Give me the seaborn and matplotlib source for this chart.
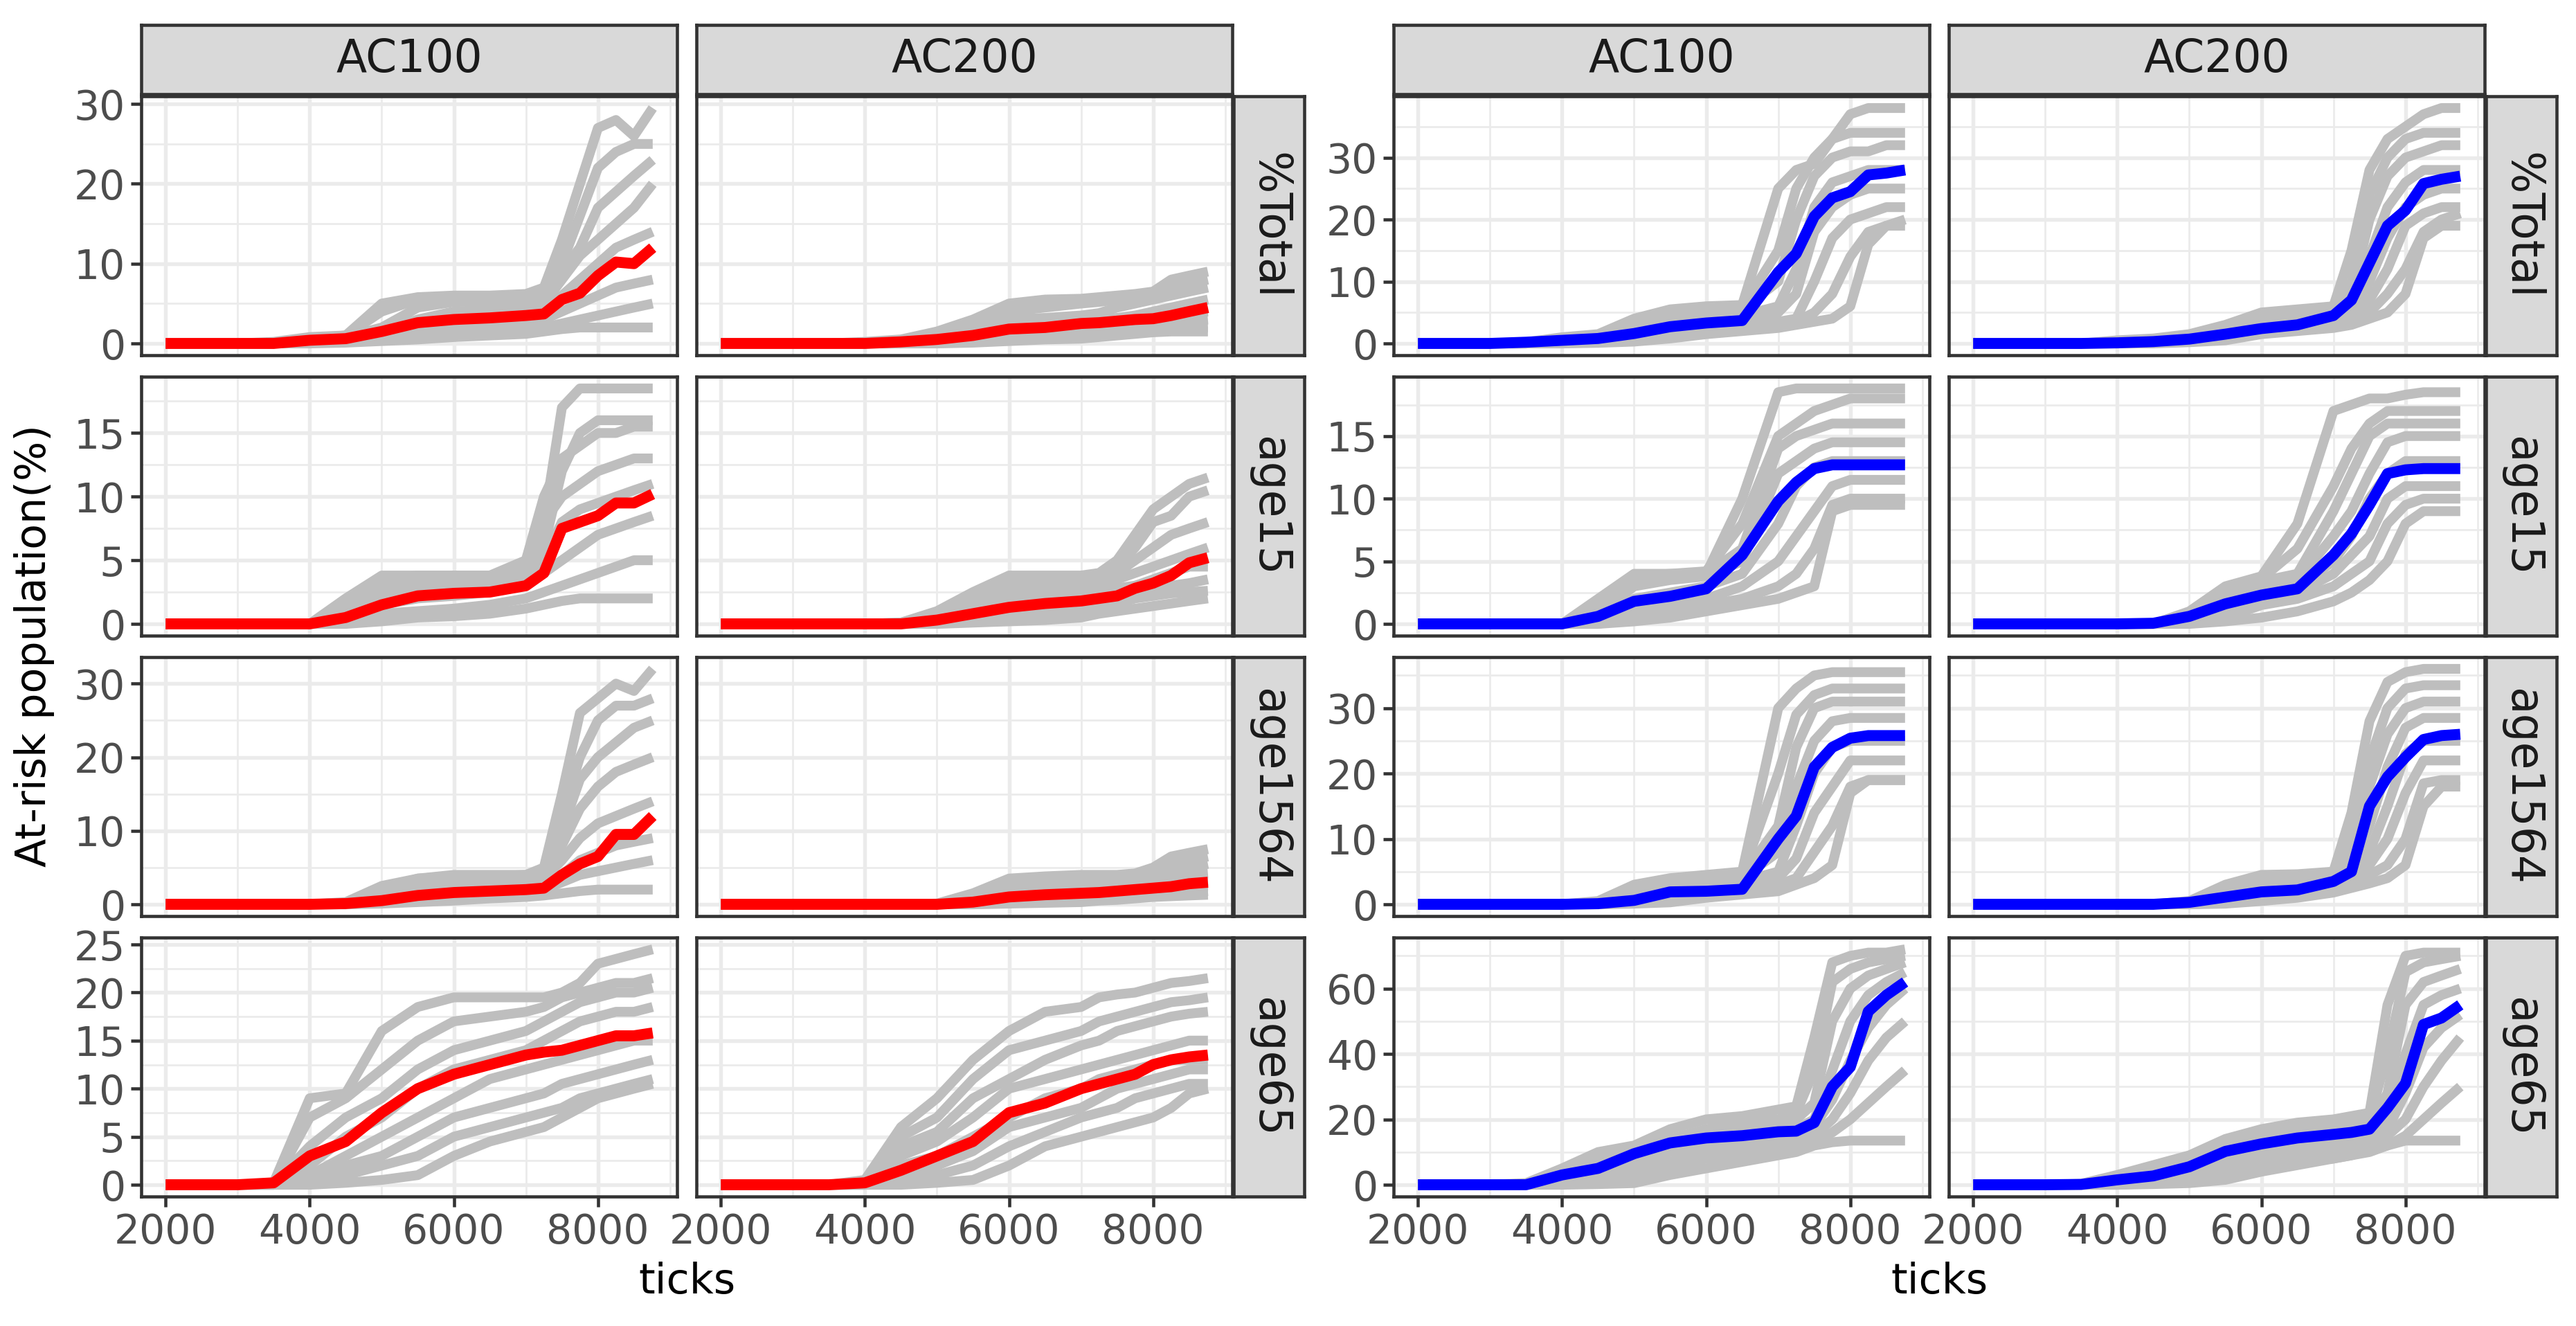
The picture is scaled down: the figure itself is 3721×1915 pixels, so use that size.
import pandas as pd
import seaborn as sns
import matplotlib.pyplot as plt
from matplotlib.ticker import FixedLocator, MultipleLocator

# sampling points along the simulation clock
TICKS = [2000, 3000, 3500, 4000, 4500, 5000, 5500, 6000, 6500, 7000, 7250, 7500, 7750, 8000, 8250, 8500, 8760]
ROWS = ["%Total", "age15", "age1564", "age65"]
COLS = ["AC100", "AC200"]
X_TICKS = [2000, 4000, 6000, 8000]
LEFT_Y_TICKS = [[0, 10, 20, 30], [0, 5, 10, 15], [0, 10, 20, 30], [0, 5, 10, 15, 20, 25]]
RIGHT_Y_TICKS = [[0, 10, 20, 30], [0, 5, 10, 15], [0, 10, 20, 30], [0, 20, 40, 60]]

# ---- left group (red mean) ----
LEFT_AC100_TOTAL_MEAN = [0, 0, 0, 0.4, 0.6, 1.5, 2.6, 3.0, 3.2, 3.5, 3.7, 5.5, 6.3, 8.5, 10.2, 10.0, 12.0]
LEFT_AC100_TOTAL_RUNS = [
    [0, 0, 0.2, 0.8, 1, 5, 5.8, 6, 6, 6.2, 7, 13, 20, 27, 28, 26, 29.5],
    [0, 0, 0.1, 0.6, 1, 4, 5.5, 5.8, 5.8, 6, 6.5, 10, 16, 22, 24, 25, 25],
    [0, 0, 0.1, 0.5, 0.8, 2, 4.5, 5.2, 5.3, 5.5, 6, 9, 12, 17, 19, 21, 23],
    [0, 0, 0, 0.3, 0.6, 1.5, 3, 4, 4.2, 4.5, 5, 8, 11, 13, 15, 17, 20],
    [0, 0, 0, 0.3, 0.5, 1, 2.5, 3, 3.2, 3.5, 4, 6, 8, 10, 12, 13, 14],
    [0, 0, 0, 0.2, 0.4, 0.8, 1.5, 2, 2.3, 2.5, 3, 4, 5, 6, 7, 7.5, 8],
    [0, 0, 0, 0.1, 0.3, 0.5, 1, 1.2, 1.3, 1.5, 2, 2.5, 3, 3.5, 4, 4.5, 5],
    [0, 0, 0, 0, 0.1, 0.3, 0.5, 0.8, 1, 1.2, 1.5, 1.8, 2, 2, 2, 2, 2],
]
LEFT_AC200_TOTAL_MEAN = [0, 0, 0, 0, 0.2, 0.5, 1.0, 1.8, 2.0, 2.5, 2.6, 2.8, 3.0, 3.1, 3.5, 4.0, 4.5]
LEFT_AC200_TOTAL_RUNS = [
    [0, 0, 0, 0.2, 0.5, 1.5, 3, 5, 5.5, 5.6, 5.8, 6, 6.2, 6.5, 8, 8.5, 9],
    [0, 0, 0, 0.1, 0.4, 1, 2.5, 4, 4.5, 5, 5.2, 5.5, 5.8, 6, 7, 7.5, 8],
    [0, 0, 0, 0.1, 0.3, 0.8, 2, 3, 3.2, 3.5, 3.8, 4.5, 5, 5.5, 6, 6.5, 7],
    [0, 0, 0, 0, 0.2, 0.5, 1.5, 2.2, 2.5, 2.8, 3, 3.2, 3.5, 4, 4.5, 5, 5.5],
    [0, 0, 0, 0, 0.1, 0.3, 1, 1.5, 1.8, 2, 2.2, 2.5, 2.8, 3, 3.5, 3.8, 4],
    [0, 0, 0, 0, 0, 0.2, 0.5, 1, 1.2, 1.5, 1.8, 2, 2.2, 2.4, 2.6, 2.8, 3],
    [0, 0, 0, 0, 0, 0.1, 0.3, 0.5, 0.6, 0.8, 1, 1.2, 1.5, 1.8, 2, 2, 2],
    [0, 0, 0, 0, 0, 0, 0.1, 0.3, 0.5, 0.6, 0.8, 1, 1.2, 1.4, 1.5, 1.5, 1.5],
]
LEFT_AC100_AGE15_MEAN = [0, 0, 0, 0, 0.5, 1.5, 2.2, 2.4, 2.5, 3.0, 4.0, 7.5, 8.0, 8.5, 9.5, 9.5, 10.2]
LEFT_AC100_AGE15_RUNS = [
    [0, 0, 0, 0, 2, 3.8, 3.8, 3.8, 3.8, 4, 8, 17, 18.5, 18.5, 18.5, 18.5, 18.5],
    [0, 0, 0, 0, 1.5, 3.5, 3.8, 3.8, 3.8, 4, 6, 12, 15, 16, 16, 16, 16],
    [0, 0, 0, 0, 1, 3, 3.5, 3.6, 3.8, 5, 10, 13, 14, 15, 15, 15.5, 15.5],
    [0, 0, 0, 0, 0.8, 2.5, 3, 3.2, 3.5, 4.5, 8, 10, 11, 12, 12.5, 13, 13],
    [0, 0, 0, 0, 0.5, 2, 2.5, 3, 3.2, 3.5, 5, 8, 9, 9.5, 10, 10.5, 11],
    [0, 0, 0, 0, 0.3, 1.5, 2, 2.2, 2.5, 3, 4, 5, 6, 7, 7.5, 8, 8.5],
    [0, 0, 0, 0, 0.2, 0.8, 1, 1.2, 1.5, 2, 2.5, 3, 3.5, 4, 4.5, 5, 5],
    [0, 0, 0, 0, 0, 0.2, 0.5, 0.6, 0.8, 1.2, 1.5, 1.8, 2, 2, 2, 2, 2],
]
LEFT_AC200_AGE15_MEAN = [0, 0, 0, 0, 0, 0.3, 0.8, 1.3, 1.6, 1.8, 2.0, 2.2, 2.8, 3.2, 3.8, 4.8, 5.2]
LEFT_AC200_AGE15_RUNS = [
    [0, 0, 0, 0, 0.1, 1, 2.5, 3.8, 3.8, 3.8, 4, 5, 7, 9, 10, 11, 11.5],
    [0, 0, 0, 0, 0.1, 0.8, 2, 3.5, 3.6, 3.7, 3.8, 4.5, 6, 8, 8.5, 10, 10.5],
    [0, 0, 0, 0, 0, 0.5, 1.5, 3, 3.2, 3.5, 3.6, 4, 5, 6, 7, 7.5, 8],
    [0, 0, 0, 0, 0, 0.4, 1.2, 2.5, 2.8, 3, 3.2, 3.5, 4, 4.5, 5, 5.5, 6],
    [0, 0, 0, 0, 0, 0.3, 1, 2, 2.2, 2.5, 2.6, 2.8, 3, 3.5, 4, 4.5, 4.5],
    [0, 0, 0, 0, 0, 0.2, 0.6, 1.2, 1.5, 1.8, 2, 2.2, 2.5, 2.8, 3, 3.2, 3.5],
    [0, 0, 0, 0, 0, 0.1, 0.3, 0.5, 0.8, 1, 1.3, 1.6, 2, 2.2, 2.4, 2.5, 2.6],
    [0, 0, 0, 0, 0, 0, 0.1, 0.2, 0.3, 0.5, 0.8, 1, 1.2, 1.4, 1.6, 1.8, 2],
]
LEFT_AC100_AGE1564_MEAN = [0, 0, 0, 0, 0.1, 0.5, 1.2, 1.6, 1.8, 2.0, 2.2, 4.0, 5.5, 6.5, 9.5, 9.5, 12.0]
LEFT_AC100_AGE1564_RUNS = [
    [0, 0, 0, 0, 0.3, 2.5, 3.5, 4, 4, 4, 5, 15, 26, 28, 30, 29, 32],
    [0, 0, 0, 0, 0.2, 2, 3.5, 3.8, 3.8, 4, 4.5, 12, 20, 25, 27, 27, 28],
    [0, 0, 0, 0, 0.2, 1.5, 3, 3.5, 3.6, 3.8, 4, 10, 17, 20, 22, 24, 25],
    [0, 0, 0, 0, 0.1, 1, 2.5, 3, 3.2, 3.5, 4, 8, 13, 16, 18, 19, 20],
    [0, 0, 0, 0, 0.1, 0.8, 2, 2.5, 2.8, 3, 3.5, 6, 9, 11, 12, 13, 14],
    [0, 0, 0, 0, 0, 0.5, 1.5, 2, 2.2, 2.5, 3, 4, 6, 7, 8, 8.5, 9],
    [0, 0, 0, 0, 0, 0.3, 0.8, 1.2, 1.5, 1.8, 2, 3, 4, 4.5, 5, 5.5, 6],
    [0, 0, 0, 0, 0, 0.1, 0.3, 0.5, 0.8, 1, 1.2, 1.5, 1.8, 2, 2, 2, 2],
]
LEFT_AC200_AGE1564_MEAN = [0, 0, 0, 0, 0, 0, 0.3, 1.0, 1.3, 1.5, 1.6, 1.8, 2.0, 2.2, 2.4, 2.8, 3.0]
LEFT_AC200_AGE1564_RUNS = [
    [0, 0, 0, 0, 0, 0.1, 1.5, 3.5, 3.8, 4, 4, 4, 4.2, 5, 6.5, 7, 7.5],
    [0, 0, 0, 0, 0, 0, 1, 3, 3.5, 3.6, 3.7, 3.8, 4, 4.5, 5.5, 6, 6.5],
    [0, 0, 0, 0, 0, 0, 0.8, 2.5, 2.8, 3, 3.2, 3.3, 3.5, 4, 4.5, 5, 5.5],
    [0, 0, 0, 0, 0, 0, 0.5, 2, 2.2, 2.5, 2.6, 2.8, 3, 3.2, 3.5, 4, 4.2],
    [0, 0, 0, 0, 0, 0, 0.3, 1.5, 1.8, 2, 2.1, 2.2, 2.4, 2.6, 2.8, 3, 3.2],
    [0, 0, 0, 0, 0, 0, 0.2, 0.8, 1, 1.2, 1.4, 1.6, 1.8, 2, 2.2, 2.4, 2.5],
    [0, 0, 0, 0, 0, 0, 0.1, 0.4, 0.6, 0.8, 1, 1.1, 1.2, 1.4, 1.5, 1.6, 1.8],
    [0, 0, 0, 0, 0, 0, 0, 0.1, 0.2, 0.3, 0.5, 0.6, 0.8, 1, 1.1, 1.2, 1.3],
]
LEFT_AC100_AGE65_MEAN = [0, 0, 0.2, 3.0, 4.5, 7.5, 10.0, 11.5, 12.5, 13.5, 13.8, 14.0, 14.5, 15.0, 15.5, 15.5, 15.8]
LEFT_AC100_AGE65_RUNS = [
    [0, 0, 0.2, 9, 9.5, 16, 18.5, 19.5, 19.5, 19.5, 19.5, 20, 21, 23, 23.5, 24, 24.5],
    [0, 0, 0.1, 7, 9, 12, 15, 17, 17.5, 18, 18.5, 19.5, 20, 20.5, 21, 21, 21.5],
    [0, 0, 0.1, 4, 7, 9, 12, 14, 15, 16, 17, 18, 19, 19.5, 20, 20, 20.5],
    [0, 0, 0, 2, 5, 7, 10, 12, 13, 14, 15, 16, 17, 17.5, 18, 18, 18.5],
    [0, 0, 0, 1, 3, 5, 7, 9, 11, 12, 12.5, 13, 13.5, 14, 14.5, 15, 15],
    [0, 0, 0, 0.5, 2, 3, 5, 7, 8, 9, 9.5, 10.5, 11, 11.5, 12, 12.5, 13],
    [0, 0, 0, 0.2, 1, 2, 3, 5, 6, 7, 7.5, 8, 9, 9.5, 10, 10.5, 11],
    [0, 0, 0, 0, 0.2, 0.5, 1, 3, 4.5, 5.5, 6, 7, 8, 9, 9.5, 10, 10.5],
]
LEFT_AC200_AGE65_MEAN = [0, 0, 0, 0.2, 1.5, 3.0, 4.5, 7.5, 8.5, 10.0, 10.5, 11.0, 11.5, 12.5, 13.0, 13.3, 13.5]
LEFT_AC200_AGE65_RUNS = [
    [0, 0, 0, 0.5, 6, 9, 13, 16, 18, 18.5, 19.5, 19.8, 20, 20.5, 21, 21.2, 21.5],
    [0, 0, 0, 0.3, 5, 7, 11, 14, 15, 16, 17, 17.5, 18, 18.5, 19, 19.2, 19.5],
    [0, 0, 0, 0.2, 4, 5.5, 9, 11, 13, 14.5, 15, 16, 16.5, 17, 17.5, 17.8, 18],
    [0, 0, 0, 0.1, 3, 4.5, 7, 10, 11, 12, 12.5, 13, 13.5, 14, 14.5, 15, 15],
    [0, 0, 0, 0, 2, 3, 5, 7, 9, 10, 11, 11.5, 12, 12.5, 13, 13, 13],
    [0, 0, 0, 0, 1, 2, 3.5, 6, 7, 8, 9, 10, 10.5, 11, 11.5, 12, 12],
    [0, 0, 0, 0, 0.3, 1, 2, 4, 5.5, 7, 7.5, 8, 9, 9.5, 10, 10.5, 10.5],
    [0, 0, 0, 0, 0, 0.2, 0.5, 2, 4, 5, 5.5, 6, 6.5, 7, 8, 9.5, 10],
]

# ---- right group (blue mean) ----
RIGHT_AC100_TOTAL_MEAN = [0, 0, 0.2, 0.5, 0.8, 1.6, 2.7, 3.3, 3.7, 11.5, 14.5, 20.5, 23.5, 24.5, 27.2, 27.5, 28.0]
RIGHT_AC100_TOTAL_RUNS = [
    [0, 0, 0.2, 1, 1.5, 4, 5.5, 6, 6.2, 25, 28, 29, 33, 37, 38, 38, 38],
    [0, 0, 0.1, 0.8, 1.2, 3, 5, 5.5, 5.8, 15, 25, 30, 33, 34, 34, 34, 34],
    [0, 0, 0.1, 0.6, 1, 2.5, 4, 5, 5.5, 10, 20, 27, 30, 31, 31, 32, 32],
    [0, 0, 0, 0.4, 0.8, 2, 3.5, 4.2, 4.5, 6, 12, 22, 26, 27, 28, 28, 28],
    [0, 0, 0, 0.3, 0.6, 1.5, 3, 3.5, 4, 5, 8, 18, 22, 24, 25, 25, 25],
    [0, 0, 0, 0.2, 0.5, 1, 2, 3, 3.2, 3.5, 4, 10, 17, 20, 21, 22, 22],
    [0, 0, 0, 0.1, 0.3, 0.8, 1.5, 2.2, 2.5, 3, 3.5, 5, 8, 14, 18, 19, 19],
    [0, 0, 0, 0, 0.1, 0.3, 0.8, 1.5, 2, 2.5, 3, 3.5, 4, 6, 16, 19, 20],
]
RIGHT_AC200_TOTAL_MEAN = [0, 0, 0, 0.1, 0.3, 0.7, 1.5, 2.4, 3.0, 4.5, 7.0, 13.0, 19.0, 21.5, 25.8, 26.5, 27.0]
RIGHT_AC200_TOTAL_RUNS = [
    [0, 0, 0, 0.5, 0.8, 1.5, 3, 5, 5.5, 6, 15, 28, 33, 35, 37, 38, 38],
    [0, 0, 0, 0.3, 0.6, 1.2, 2.5, 4.5, 5, 5.5, 10, 24, 30, 33, 34, 34, 34],
    [0, 0, 0, 0.2, 0.5, 1, 2, 4, 4.5, 5, 8, 20, 27, 30, 31, 32, 32],
    [0, 0, 0, 0.1, 0.4, 0.8, 1.8, 3.5, 4, 4.5, 6, 14, 22, 26, 28, 28, 28],
    [0, 0, 0, 0.1, 0.3, 0.6, 1.5, 3, 3.5, 4, 5, 10, 17, 22, 24, 25, 25],
    [0, 0, 0, 0, 0.2, 0.5, 1.2, 2.5, 3, 3.5, 4, 7, 12, 19, 21, 22, 22],
    [0, 0, 0, 0, 0.1, 0.3, 0.8, 2, 2.5, 3, 3.5, 5, 8, 12, 18, 20, 21],
    [0, 0, 0, 0, 0, 0.2, 0.5, 1.5, 2, 2.5, 3, 4, 5, 8, 17, 19, 19],
]
RIGHT_AC100_AGE15_MEAN = [0, 0, 0, 0, 0.6, 1.8, 2.2, 2.8, 5.5, 9.8, 11.3, 12.4, 12.7, 12.7, 12.7, 12.7, 12.7]
RIGHT_AC100_AGE15_RUNS = [
    [0, 0, 0, 0, 2, 4, 4, 4, 10, 18.5, 18.8, 18.8, 18.8, 18.8, 18.8, 18.8, 18.8],
    [0, 0, 0, 0, 1.5, 3.8, 4, 4.2, 8, 15, 16, 17, 17.5, 18, 18, 18, 18],
    [0, 0, 0, 0, 1, 3.5, 3.8, 4, 6, 14, 15, 15.5, 16, 16, 16, 16, 16],
    [0, 0, 0, 0, 0.8, 3, 3.5, 3.8, 5, 12, 13, 14, 14.5, 14.5, 14.5, 14.5, 14.5],
    [0, 0, 0, 0, 0.5, 2, 2.5, 3, 4, 8, 11, 12.5, 13, 13, 13, 13, 13],
    [0, 0, 0, 0, 0.2, 1, 1.5, 2, 3, 5, 7, 9, 11, 11.5, 11.5, 11.5, 11.5],
    [0, 0, 0, 0, 0, 0.5, 1, 1.5, 2, 3, 4, 6, 9.5, 10, 10, 10, 10],
    [0, 0, 0, 0, 0, 0.2, 0.5, 1, 1.5, 2, 2.5, 3, 9, 9.5, 9.5, 9.5, 9.5],
]
RIGHT_AC200_AGE15_MEAN = [0, 0, 0, 0, 0.05, 0.6, 1.6, 2.3, 2.8, 5.5, 7.2, 9.5, 12.0, 12.3, 12.4, 12.4, 12.4]
RIGHT_AC200_AGE15_RUNS = [
    [0, 0, 0, 0, 0, 1, 3, 3.8, 8, 17, 17.5, 18, 18, 18.3, 18.5, 18.5, 18.5],
    [0, 0, 0, 0, 0, 0.8, 2.5, 3.6, 6, 11, 14, 16, 17, 17, 17, 17, 17],
    [0, 0, 0, 0, 0, 0.6, 2, 3.4, 4, 9, 12, 15, 16, 16, 16, 16, 16],
    [0, 0, 0, 0, 0, 0.5, 1.5, 3, 3.5, 7, 9, 12, 14.5, 15, 15, 15, 15],
    [0, 0, 0, 0, 0, 0.3, 1, 2.5, 3, 5, 7, 10, 12, 13, 13, 13, 13],
    [0, 0, 0, 0, 0, 0.2, 0.8, 2, 2.5, 4, 5.5, 7, 10, 11, 11, 11, 11],
    [0, 0, 0, 0, 0, 0.1, 0.5, 1.5, 2, 3, 4, 5, 8, 9.5, 10, 10, 10],
    [0, 0, 0, 0, 0, 0, 0.2, 0.5, 1, 1.8, 2.5, 3.5, 5, 8, 9, 9, 9],
]
RIGHT_AC100_AGE1564_MEAN = [0, 0, 0, 0, 0.1, 0.6, 1.9, 2.0, 2.3, 10.0, 13.5, 21.0, 24.0, 25.4, 25.8, 25.8, 25.8]
RIGHT_AC100_AGE1564_RUNS = [
    [0, 0, 0, 0, 0.5, 3, 4, 4.5, 5, 30, 33, 35, 35.5, 35.5, 35.5, 35.5, 35.5],
    [0, 0, 0, 0, 0.3, 2.5, 3.8, 4.2, 4.5, 20, 29, 32, 33, 33, 33, 33, 33],
    [0, 0, 0, 0, 0.2, 2, 3.5, 4, 4.3, 12, 24, 30, 31, 31, 31, 31, 31],
    [0, 0, 0, 0, 0.1, 1.5, 3, 3.5, 4, 8, 18, 25, 28, 28.5, 28.5, 28.5, 28.5],
    [0, 0, 0, 0, 0.1, 1, 2.5, 3, 3.5, 5, 12, 20, 24, 25, 25, 25, 25],
    [0, 0, 0, 0, 0, 0.5, 1.8, 2.5, 3, 4, 7, 14, 18, 22, 22, 22, 22],
    [0, 0, 0, 0, 0, 0.2, 1, 1.8, 2.2, 3, 4, 8, 12, 18, 19, 19, 19],
    [0, 0, 0, 0, 0, 0.1, 0.3, 1, 1.5, 2, 3, 4, 6, 17, 19, 19, 19],
]
RIGHT_AC200_AGE1564_MEAN = [0, 0, 0, 0, 0, 0.3, 1.1, 1.9, 2.2, 3.5, 5.0, 15.0, 19.5, 22.5, 25.2, 25.8, 26.0]
RIGHT_AC200_AGE1564_RUNS = [
    [0, 0, 0, 0, 0, 0.5, 3, 4.5, 4.6, 5, 14, 28, 34, 35.5, 36, 36, 36],
    [0, 0, 0, 0, 0, 0.4, 2.5, 4, 4.2, 4.6, 10, 22, 30, 33, 33.5, 33.5, 33.5],
    [0, 0, 0, 0, 0, 0.3, 2, 3.5, 3.8, 4.2, 7, 18, 26, 30, 31, 31, 31],
    [0, 0, 0, 0, 0, 0.2, 1.5, 3, 3.3, 3.8, 5, 12, 21, 27, 28.5, 28.5, 28.5],
    [0, 0, 0, 0, 0, 0.1, 1, 2.5, 3, 3.5, 4.5, 8, 15, 23, 25, 25, 25],
    [0, 0, 0, 0, 0, 0.1, 0.6, 2, 2.5, 3, 4, 6, 10, 17, 22, 22, 22],
    [0, 0, 0, 0, 0, 0, 0.3, 1.2, 1.8, 2.5, 3.5, 4.5, 6, 10, 18.5, 19, 19],
    [0, 0, 0, 0, 0, 0, 0.1, 0.5, 1, 1.8, 2.5, 3.2, 4, 6, 15, 18, 18],
]
RIGHT_AC100_AGE65_MEAN = [0, 0, 0, 3.0, 5.0, 9.5, 12.8, 14.3, 15.0, 16.2, 16.4, 19.0, 30.0, 36.0, 53.0, 58.0, 62.0]
RIGHT_AC100_AGE65_RUNS = [
    [0, 0, 0.5, 5, 10, 12, 17, 20, 21, 23, 24, 45, 68, 70, 71, 71, 72],
    [0, 0, 0.3, 4, 8, 10, 14, 17, 19, 20, 22, 35, 62, 66, 68, 69, 70],
    [0, 0, 0.2, 3, 7, 9, 12, 15, 17, 18, 20, 25, 50, 60, 64, 66, 68],
    [0, 0, 0.1, 2, 5, 8, 11, 14, 15, 16, 17, 20, 35, 50, 58, 62, 65],
    [0, 0, 0, 1, 4, 6, 10, 12, 13, 14, 15, 18, 26, 38, 48, 55, 60],
    [0, 0, 0, 0.5, 2, 4, 7, 10, 11, 12, 13, 15, 20, 28, 38, 45, 50],
    [0, 0, 0, 0.2, 1, 2, 5, 8, 9, 10, 11, 13, 16, 20, 25, 30, 35],
    [0, 0, 0, 0, 0.2, 0.5, 3, 5, 7, 9, 10, 12, 13, 13.5, 13.5, 13.5, 13.5],
]
RIGHT_AC200_AGE65_MEAN = [0, 0, 0.1, 1.5, 2.7, 5.5, 10.2, 12.5, 14.3, 15.4, 16.0, 17.0, 23.5, 31.0, 49.0, 51.0, 55.0]
RIGHT_AC200_AGE65_RUNS = [
    [0, 0, 0.3, 3, 6, 9, 14, 17, 19, 20, 21, 22, 55, 70, 71, 71, 71],
    [0, 0, 0.2, 2, 5, 8, 12, 15, 17, 18, 19, 20, 40, 65, 68, 69, 70],
    [0, 0, 0.1, 1.5, 4, 7, 11, 14, 15, 16, 17, 18, 28, 55, 62, 64, 66],
    [0, 0, 0, 1, 3, 5, 9, 12, 13, 14, 15, 16, 20, 40, 55, 58, 60],
    [0, 0, 0, 0.5, 2, 4, 7, 10, 11, 12, 13, 14, 17, 28, 42, 48, 52],
    [0, 0, 0, 0.2, 1, 3, 5, 8, 9, 10, 11, 12, 15, 20, 30, 38, 45],
    [0, 0, 0, 0, 0.5, 1.5, 3, 6, 7, 8, 9, 10, 12, 15, 20, 25, 30],
    [0, 0, 0, 0, 0.2, 0.5, 1.5, 4, 6, 8, 9, 11, 12, 13.5, 13.5, 13.5, 13.5],
]

GROUPS = [
    {
        "color": "#FF0000",
        "yticks": LEFT_Y_TICKS,
        "panels": [
            [(LEFT_AC100_TOTAL_MEAN, LEFT_AC100_TOTAL_RUNS), (LEFT_AC200_TOTAL_MEAN, LEFT_AC200_TOTAL_RUNS)],
            [(LEFT_AC100_AGE15_MEAN, LEFT_AC100_AGE15_RUNS), (LEFT_AC200_AGE15_MEAN, LEFT_AC200_AGE15_RUNS)],
            [(LEFT_AC100_AGE1564_MEAN, LEFT_AC100_AGE1564_RUNS), (LEFT_AC200_AGE1564_MEAN, LEFT_AC200_AGE1564_RUNS)],
            [(LEFT_AC100_AGE65_MEAN, LEFT_AC100_AGE65_RUNS), (LEFT_AC200_AGE65_MEAN, LEFT_AC200_AGE65_RUNS)],
        ],
    },
    {
        "color": "#0000FF",
        "yticks": RIGHT_Y_TICKS,
        "panels": [
            [(RIGHT_AC100_TOTAL_MEAN, RIGHT_AC100_TOTAL_RUNS), (RIGHT_AC200_TOTAL_MEAN, RIGHT_AC200_TOTAL_RUNS)],
            [(RIGHT_AC100_AGE15_MEAN, RIGHT_AC100_AGE15_RUNS), (RIGHT_AC200_AGE15_MEAN, RIGHT_AC200_AGE15_RUNS)],
            [(RIGHT_AC100_AGE1564_MEAN, RIGHT_AC100_AGE1564_RUNS), (RIGHT_AC200_AGE1564_MEAN, RIGHT_AC200_AGE1564_RUNS)],
            [(RIGHT_AC100_AGE65_MEAN, RIGHT_AC100_AGE65_RUNS), (RIGHT_AC200_AGE65_MEAN, RIGHT_AC200_AGE65_RUNS)],
        ],
    },
]


def runs_frame(runs):
    records = []
    for i, run in enumerate(runs):
        for t, v in zip(TICKS, run):
            records.append({"ticks": t, "value": v, "run": i})
    return pd.DataFrame(records)


sns.set_theme(style="white")
plt.rcParams["font.family"] = ["DejaVu Sans"]

W, H = 3721, 1915
fig = plt.figure(figsize=(W / 300, H / 300), dpi=300)


def box(x0, y0, x1, y1):
    return [x0 / W, 1 - y1 / H, (x1 - x0) / W, (y1 - y0) / H]


GROUP_X = [204, 2013]
COL_W, COL_GAP = 774, 28
ROW_TOP, ROW_H, ROW_GAP = 139, 374, 31
STRIP_W = 102
BORDER = "#333333"
STRIP_FILL = "#D9D9D9"

x_pad = 0.05 * (max(TICKS) - min(TICKS))

for g, group in enumerate(GROUPS):
    first_ax = None
    for r in range(len(ROWS)):
        y0 = ROW_TOP + r * (ROW_H + ROW_GAP)
        row_ax = None
        for c in range(len(COLS)):
            x0 = GROUP_X[g] + c * (COL_W + COL_GAP)
            ax = fig.add_axes(box(x0, y0, x0 + COL_W, y0 + ROW_H), sharex=first_ax, sharey=row_ax)
            if first_ax is None:
                first_ax = ax
            if row_ax is None:
                row_ax = ax

            mean, runs = group["panels"][r][c]
            sns.lineplot(data=runs_frame(runs), x="ticks", y="value", units="run", estimator=None,
                         color="#BEBEBE", linewidth=3.4, legend=False, ax=ax,
                         solid_capstyle="butt", solid_joinstyle="round")
            sns.lineplot(x=TICKS, y=mean, color=group["color"], linewidth=3.8, ax=ax,
                         solid_capstyle="butt", solid_joinstyle="round")
            ax.set(xlabel="", ylabel="")

            ax.set_facecolor("white")
            ax.set_xlim(min(TICKS) - x_pad, max(TICKS) + x_pad)
            ax.margins(y=0.05)
            yt = group["yticks"][r]
            ax.yaxis.set_major_locator(FixedLocator(yt))
            ax.yaxis.set_minor_locator(MultipleLocator((yt[1] - yt[0]) / 2))
            ax.xaxis.set_major_locator(FixedLocator(X_TICKS))
            ax.xaxis.set_minor_locator(MultipleLocator(1000))
            ax.grid(True, which="major", color="#EBEBEB", linewidth=1.3)
            ax.grid(True, which="minor", color="#EBEBEB", linewidth=0.65)
            ax.set_axisbelow(True)
            for sp in ax.spines.values():
                sp.set_color(BORDER)
                sp.set_linewidth(1.1)
            ax.tick_params(which="major", direction="out", length=3.5, width=1.1, color=BORDER,
                           labelsize=14, labelcolor="#4D4D4D", pad=2)
            ax.tick_params(which="minor", length=0)
            ax.tick_params(axis="x", bottom=(r == len(ROWS) - 1), labelbottom=(r == len(ROWS) - 1))
            ax.tick_params(axis="y", left=(c == 0), labelleft=(c == 0))

            # column strips on top
            if r == 0:
                sax = fig.add_axes(box(x0, ROW_TOP - 103, x0 + COL_W, ROW_TOP - 3))
                sax.set_facecolor(STRIP_FILL)
                sax.set_xticks([])
                sax.set_yticks([])
                for sp in sax.spines.values():
                    sp.set_color(BORDER)
                    sp.set_linewidth(1.1)
                sax.text(0.5, 0.5, COLS[c], ha="center", va="center", fontsize=15.5,
                         color="#1A1A1A", transform=sax.transAxes)

        # row strip on the right
        sx0 = GROUP_X[g] + 2 * COL_W + COL_GAP + 2
        rax = fig.add_axes(box(sx0, y0, sx0 + STRIP_W, y0 + ROW_H))
        rax.set_facecolor(STRIP_FILL)
        rax.set_xticks([])
        rax.set_yticks([])
        for sp in rax.spines.values():
            sp.set_color(BORDER)
            sp.set_linewidth(1.1)
        rax.text(0.5, 0.5, ROWS[r], ha="center", va="center", rotation=-90, fontsize=15.5,
                 color="#1A1A1A", transform=rax.transAxes)

    cx = GROUP_X[g] + COL_W + COL_GAP / 2
    fig.text(cx / W, 1 - 1851 / H, "ticks", ha="center", va="center", fontsize=14.5, color="black")

fig.text(50 / W, 1 - 933 / H, "At-risk population(%)", ha="center", va="center", rotation=90,
         fontsize=14.5, color="black")

fig.savefig("out.png", dpi=300)
